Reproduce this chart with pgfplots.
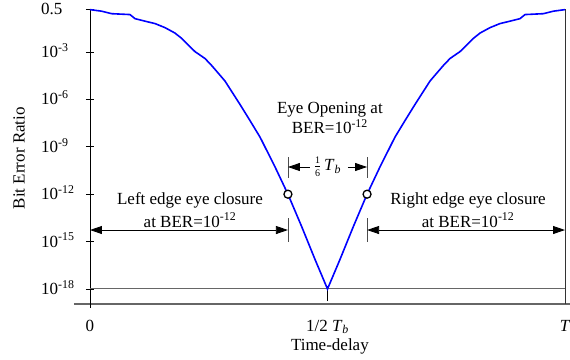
\documentclass[border=0pt]{standalone}
\usepackage{fontspec}
\setmainfont{Liberation Serif}
\usepackage{pgfplots}
\pgfplotsset{compat=1.18}
\usetikzlibrary{arrows.meta}
\newcommand\fs{\fontsize{17}{20}\selectfont}
\newcommand\ber{BER=10\textsuperscript{-12}}
\tikzset{tip/.style={{Triangle[length=12pt,width=8pt]}-{Triangle[length=12pt,width=8pt]}, line width=0.8pt},
         onetip/.style={-{Triangle[length=12pt,width=8pt]}, line width=0.8pt}}

\begin{document}
\begin{tikzpicture}[font=\fs]
\begin{axis}[
  scale only axis, width=475pt, height=295.3pt,
  xmin=0, xmax=1, ymode=log, ymin=1.12e-19, ymax=0.55,
  axis x line*=bottom, axis y line*=left,
  x axis line style={draw=black!60, line width=1.1pt, shorten <=-16pt, shorten >=-5pt},
  y axis line style={black, line width=0.8pt, shorten <=-4pt},
  xtick={0,0.5,1},
  xticklabels={0, 1/2 \textit{T}\textsubscript{\textit{b}}, \textit{T}},
  major x tick style={draw=none},
  ytick={0.5,1e-3,1e-6,1e-9,1e-12,1e-15,1e-18},
  yticklabels={0.5, 10\textsuperscript{-3}, 10\textsuperscript{-6}, 10\textsuperscript{-9},
               10\textsuperscript{-12}, 10\textsuperscript{-15}, 10\textsuperscript{-18}},
  yminorticks=false,
  tick align=center, major tick length=8pt,
  major y tick style={black, line width=0.8pt},
  tick label style={font=\fs},
  yticklabel style={anchor=base west, inner sep=0pt, xshift=-45pt, yshift=-5.5pt},
  xticklabel style={anchor=base, inner sep=0pt, yshift=-23pt},
  xlabel={Time-delay}, ylabel={Bit Error Ratio},
  every axis x label/.style={at={(axis description cs:0.505,-0.158)}, anchor=base, font=\fs},
  every axis y label/.style={at={(axis description cs:-0.1495,0.494)}, anchor=center, rotate=90, font=\fs},
  clip=false,
]
\coordinate (sw) at (rel axis cs:0,0);

% frame pieces: right edge, floor line at 1e-18, tick at the bit centre
\draw[black!80, line width=0.8pt] (rel axis cs:1,0) -- (rel axis cs:1,1);
\draw[black!60, line width=1pt] (axis cs:0,1e-18) -- (axis cs:1,1e-18);
\draw[black, line width=0.8pt] (rel axis cs:0.5,0) ++(0,-4pt) -- ++(0,8pt);

% bathtub curve (BER against sampling instant, in units of the bit period)
\addplot[blue, line width=1.6pt] table {
t       ber
0.000   0.482
0.0246  0.382
0.0457  0.266
0.0842  0.234
0.0947  0.129
0.1227  0.0796
0.1368  0.0631
0.1579  0.0348
0.1789  0.0158
0.193   7.24e-3
0.221   1.06e-3
0.242   3.89e-4
0.256   1.41e-4
0.284   1.48e-5
0.316   4.68e-7
0.337   4.47e-8
0.358   4.07e-9
0.389   5.75e-11
0.4167  1e-12
0.4455  9.1e-15
0.474   7.08e-17
0.500   1e-18
0.526   7.08e-17
0.5545  9.1e-15
0.5833  1e-12
0.611   5.75e-11
0.642   4.07e-9
0.663   4.47e-8
0.684   4.68e-7
0.716   1.48e-5
0.744   1.41e-4
0.758   3.89e-4
0.779   1.06e-3
0.807   7.24e-3
0.8211  0.0158
0.8421  0.0348
0.8632  0.0631
0.8773  0.0796
0.9053  0.129
0.9158  0.234
0.9543  0.266
0.9754  0.382
1.000   0.482
};

% eye closure points at BER = 1e-12
\addplot[only marks, mark=*, mark size=4pt,
  mark options={fill=white, draw=black, line width=1.3pt}]
  coordinates {(0.4167,1e-12) (0.5833,1e-12)};

% eye opening annotation
\draw[black!70, line width=0.8pt] (axis cs:0.4167,2.24e-10) -- (axis cs:0.4167,1.07e-11);
\draw[black!70, line width=0.8pt] (axis cs:0.5833,2.24e-10) -- (axis cs:0.5833,1.07e-11);
\draw[onetip] (axis cs:0.463,5.25e-11) -- (axis cs:0.4167,5.25e-11);
\draw[onetip] (axis cs:0.543,5.25e-11) -- (axis cs:0.5833,5.25e-11);
\node at (axis cs:0.5,5.25e-11)
  {$\frac{\mbox{\fontsize{10}{10}\selectfont 1}}{\mbox{\fontsize{10}{10}\selectfont 6}}$\,\textit{T}\textsubscript{\textit{b}}};
\node[anchor=base] at (axis cs:0.505,1.32e-7) {Eye Opening at};
\node[anchor=base] at (axis cs:0.505,7.08e-9) {\ber};

% edge closure annotations
\draw[black!70, line width=0.8pt] (axis cs:0.4167,3.09e-14) -- (axis cs:0.4167,9.3e-16);
\draw[black!70, line width=0.8pt] (axis cs:0.5833,3.09e-14) -- (axis cs:0.5833,9.3e-16);
\draw[tip] (axis cs:0,5.4e-15) -- (axis cs:0.4167,5.4e-15);
\draw[tip] (axis cs:0.5833,5.4e-15) -- (axis cs:1,5.4e-15);
\node[anchor=base] at (axis cs:0.2105,2.09e-13) {Left edge eye closure};
\node[anchor=base] at (axis cs:0.2105,8.3e-15) {at \ber};
\node[anchor=base] at (axis cs:0.796,2.09e-13) {Right edge eye closure};
\node[anchor=base] at (axis cs:0.796,8.3e-15) {at \ber};
\end{axis}
\pgfresetboundingbox
\path ([shift={(-90pt,-55pt)}]sw) rectangle ([shift={(480pt,304pt)}]sw);
\end{tikzpicture}
\end{document}
